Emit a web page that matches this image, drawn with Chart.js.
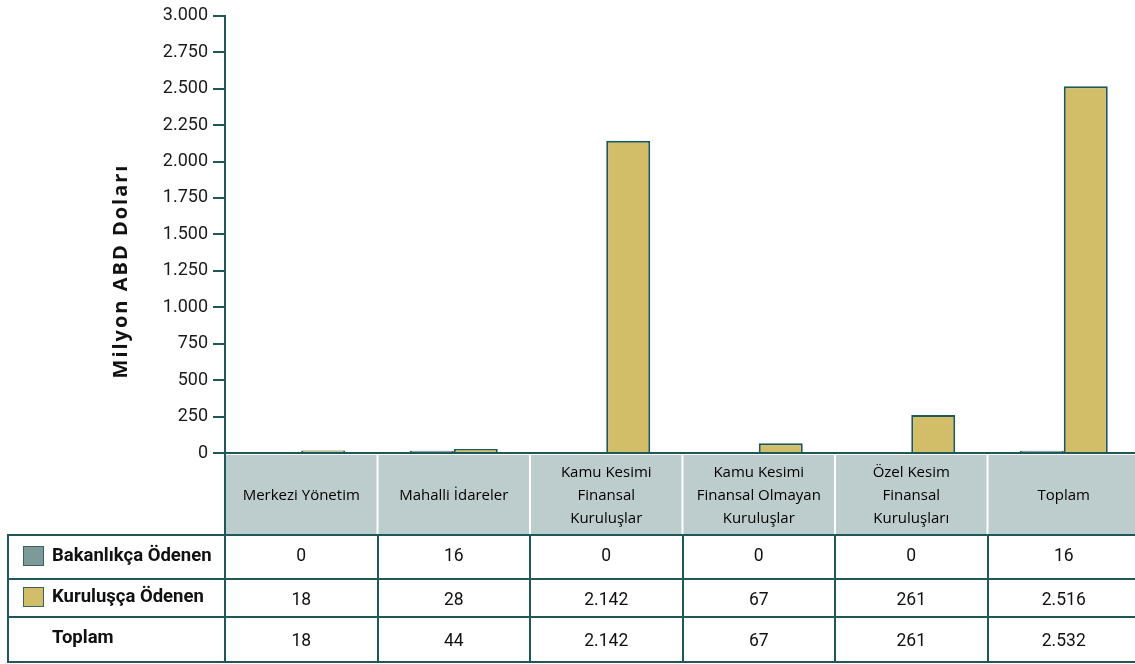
<!DOCTYPE html>
<html>
<head>
<meta charset="utf-8">
<script src="https://cdn.jsdelivr.net/npm/chart.js@4.4.1/dist/chart.umd.min.js"></script>
<style>
    html, body { margin: 0; padding: 0; background: #fff; overflow: hidden; }
    #wrap { position: relative; width: 1140px; height: 664px; }
</style>
</head>
<body>
<div id="wrap"><canvas id="dataChart" width="1140" height="664"></canvas></div>
<script>
// kategoriler (tablo başlıkları)
const categories = [
    ['Merkezi Yönetim'],
    ['Mahalli İdareler'],
    ['Kamu Kesimi', 'Finansal', 'Kuruluşlar'],
    ['Kamu Kesimi', 'Finansal Olmayan', 'Kuruluşlar'],
    ['Özel Kesim', 'Finansal', 'Kuruluşları'],
    ['Toplam']
];
const bakanlikca = [0, 16, 0, 0, 0, 16];
const kuruluscа = [18, 28, 2142, 67, 261, 2516];
const toplam = [18, 44, 2142, 67, 261, 2532];
const rowLabels = ['Bakanlıkça Ödenen', 'Kuruluşça Ödenen', 'Toplam'];
const yTicks = [0, 250, 500, 750, 1000, 1250, 1500, 1750, 2000, 2250, 2500, 2750, 3000];
const axisTitle = 'Milyon ABD Doları';

const TEAL = '#7b9a98';
const KHAKI = '#d2bd69';
const DARK = '#1f5858';
const HEAD_BG = '#bdcdcd';
const NUM_FONT = 'Roboto, "Liberation Sans", sans-serif';

function fmt(v) {
    return String(v).replace(/\B(?=(\d{3})+(?!\d))/g, '.');
}

const tablePlugin = {
    id: 'dataTable',
    afterDraw(chart) {
        const ctx = chart.ctx;
        const x = chart.scales.x;
        const n = categories.length;
        const colW = (x.right - x.left) / n;
        const top = chart.chartArea.bottom + 2;
        const rows = [535, 579, 617, 662];
        const W = chart.width;

        ctx.save();
        // başlık hücreleri
        ctx.fillStyle = HEAD_BG;
        for (let i = 0; i < n; i++) {
            ctx.fillRect(x.left + i * colW + 1, top, colW - 2, rows[0] - top);
        }
        ctx.fillStyle = '#000';
        ctx.font = '500 15px "Open Sans"';
        ctx.textAlign = 'center';
        ctx.textBaseline = 'middle';
        const midHead = (top + rows[0]) / 2 + 1;
        categories.forEach((lines, i) => {
            const cx = x.getPixelForValue(i);
            lines.forEach((ln, j) => {
                ctx.fillText(ln, cx, midHead + (j - (lines.length - 1) / 2) * 23);
            });
        });

        // çizgiler
        ctx.strokeStyle = DARK;
        ctx.lineWidth = 2;
        ctx.beginPath();
        rows.forEach(r => { ctx.moveTo(8, r); ctx.lineTo(W, r); });
        ctx.moveTo(8, rows[0] - 1); ctx.lineTo(8, rows[3] + 1);
        ctx.moveTo(x.left, chart.chartArea.bottom); ctx.lineTo(x.left, rows[3] + 1);
        for (let i = 1; i < n; i++) {
            const bx = Math.round(x.left + i * colW);
            ctx.moveTo(bx, rows[0]); ctx.lineTo(bx, rows[3] + 1);
        }
        ctx.stroke();

        // değerler
        const series = [bakanlikca, kuruluscа, toplam];
        const offs = [0, 3, 2];
        ctx.fillStyle = '#111';
        ctx.font = '17.5px ' + NUM_FONT;
        series.forEach((vals, r) => {
            const cy = (rows[r] + rows[r + 1]) / 2 + offs[r];
            vals.forEach((v, i) => ctx.fillText(fmt(v), x.getPixelForValue(i), cy));
        });

        // satır etiketleri ve lejant kutuları
        const swatch = [TEAL, KHAKI, null];
        ctx.textAlign = 'left';
        ctx.font = 'bold 18.5px ' + NUM_FONT;
        rowLabels.forEach((lab, r) => {
            const cy = (rows[r] + rows[r + 1]) / 2 - 1;
            if (swatch[r]) {
                ctx.fillStyle = swatch[r];
                ctx.fillRect(23, cy - 10, 21, 20);
                ctx.strokeStyle = '#3d6060';
                ctx.lineWidth = 1;
                ctx.strokeRect(23.5, cy - 9.5, 20, 19);
            }
            ctx.fillStyle = '#111';
            ctx.fillText(lab, 52, cy);
        });

        // eksen başlığı
        ctx.translate(121, 271);
        ctx.rotate(-Math.PI / 2);
        ctx.textAlign = 'center';
        ctx.font = 'bold 20px "Open Sans"';
        ctx.letterSpacing = '2px';
        ctx.fillText(axisTitle, 0, 0);
        ctx.restore();
    }
};

const data = {
    labels: categories,
    datasets: [
        {
            label: rowLabels[0],
            data: bakanlikca,
            backgroundColor: TEAL,
            borderColor: DARK,
            borderWidth: 2
        },
        {
            label: rowLabels[1],
            data: kuruluscа,
            backgroundColor: KHAKI,
            borderColor: DARK,
            borderWidth: 2
        }
    ]
};

const dataOptions = {
    type: 'bar',
    data: data,
    plugins: [tablePlugin],
    options: {
        responsive: false,
        animation: false,
        layout: { padding: { top: 15, bottom: 211, left: 0, right: 0 } },
        plugins: {
            legend: { display: false },
            tooltip: { enabled: false }
        },
        datasets: {
            bar: { barPercentage: 1, categoryPercentage: 0.577 }
        },
        scales: {
            x: {
                grid: { display: false },
                ticks: { display: false },
                border: { color: DARK, width: 2 },
                afterFit: (s) => { s.height = 0; }
            },
            y: {
                min: 0,
                max: 3000,
                afterBuildTicks: (s) => { s.ticks = yTicks.map(v => ({ value: v })); },
                afterFit: (s) => { s.width = 225; },
                grid: {
                    drawOnChartArea: false,
                    color: DARK,
                    lineWidth: 2,
                    tickLength: 12
                },
                border: { color: DARK, width: 2 },
                ticks: {
                    color: '#1a1a1a',
                    padding: 5,
                    font: { family: NUM_FONT, size: 18 },
                    callback: (v) => fmt(v)
                }
            }
        }
    }
};

const datactx = document.getElementById('dataChart').getContext('2d');
const dataChart = new Chart(datactx, dataOptions);
</script>
</body>
</html>
